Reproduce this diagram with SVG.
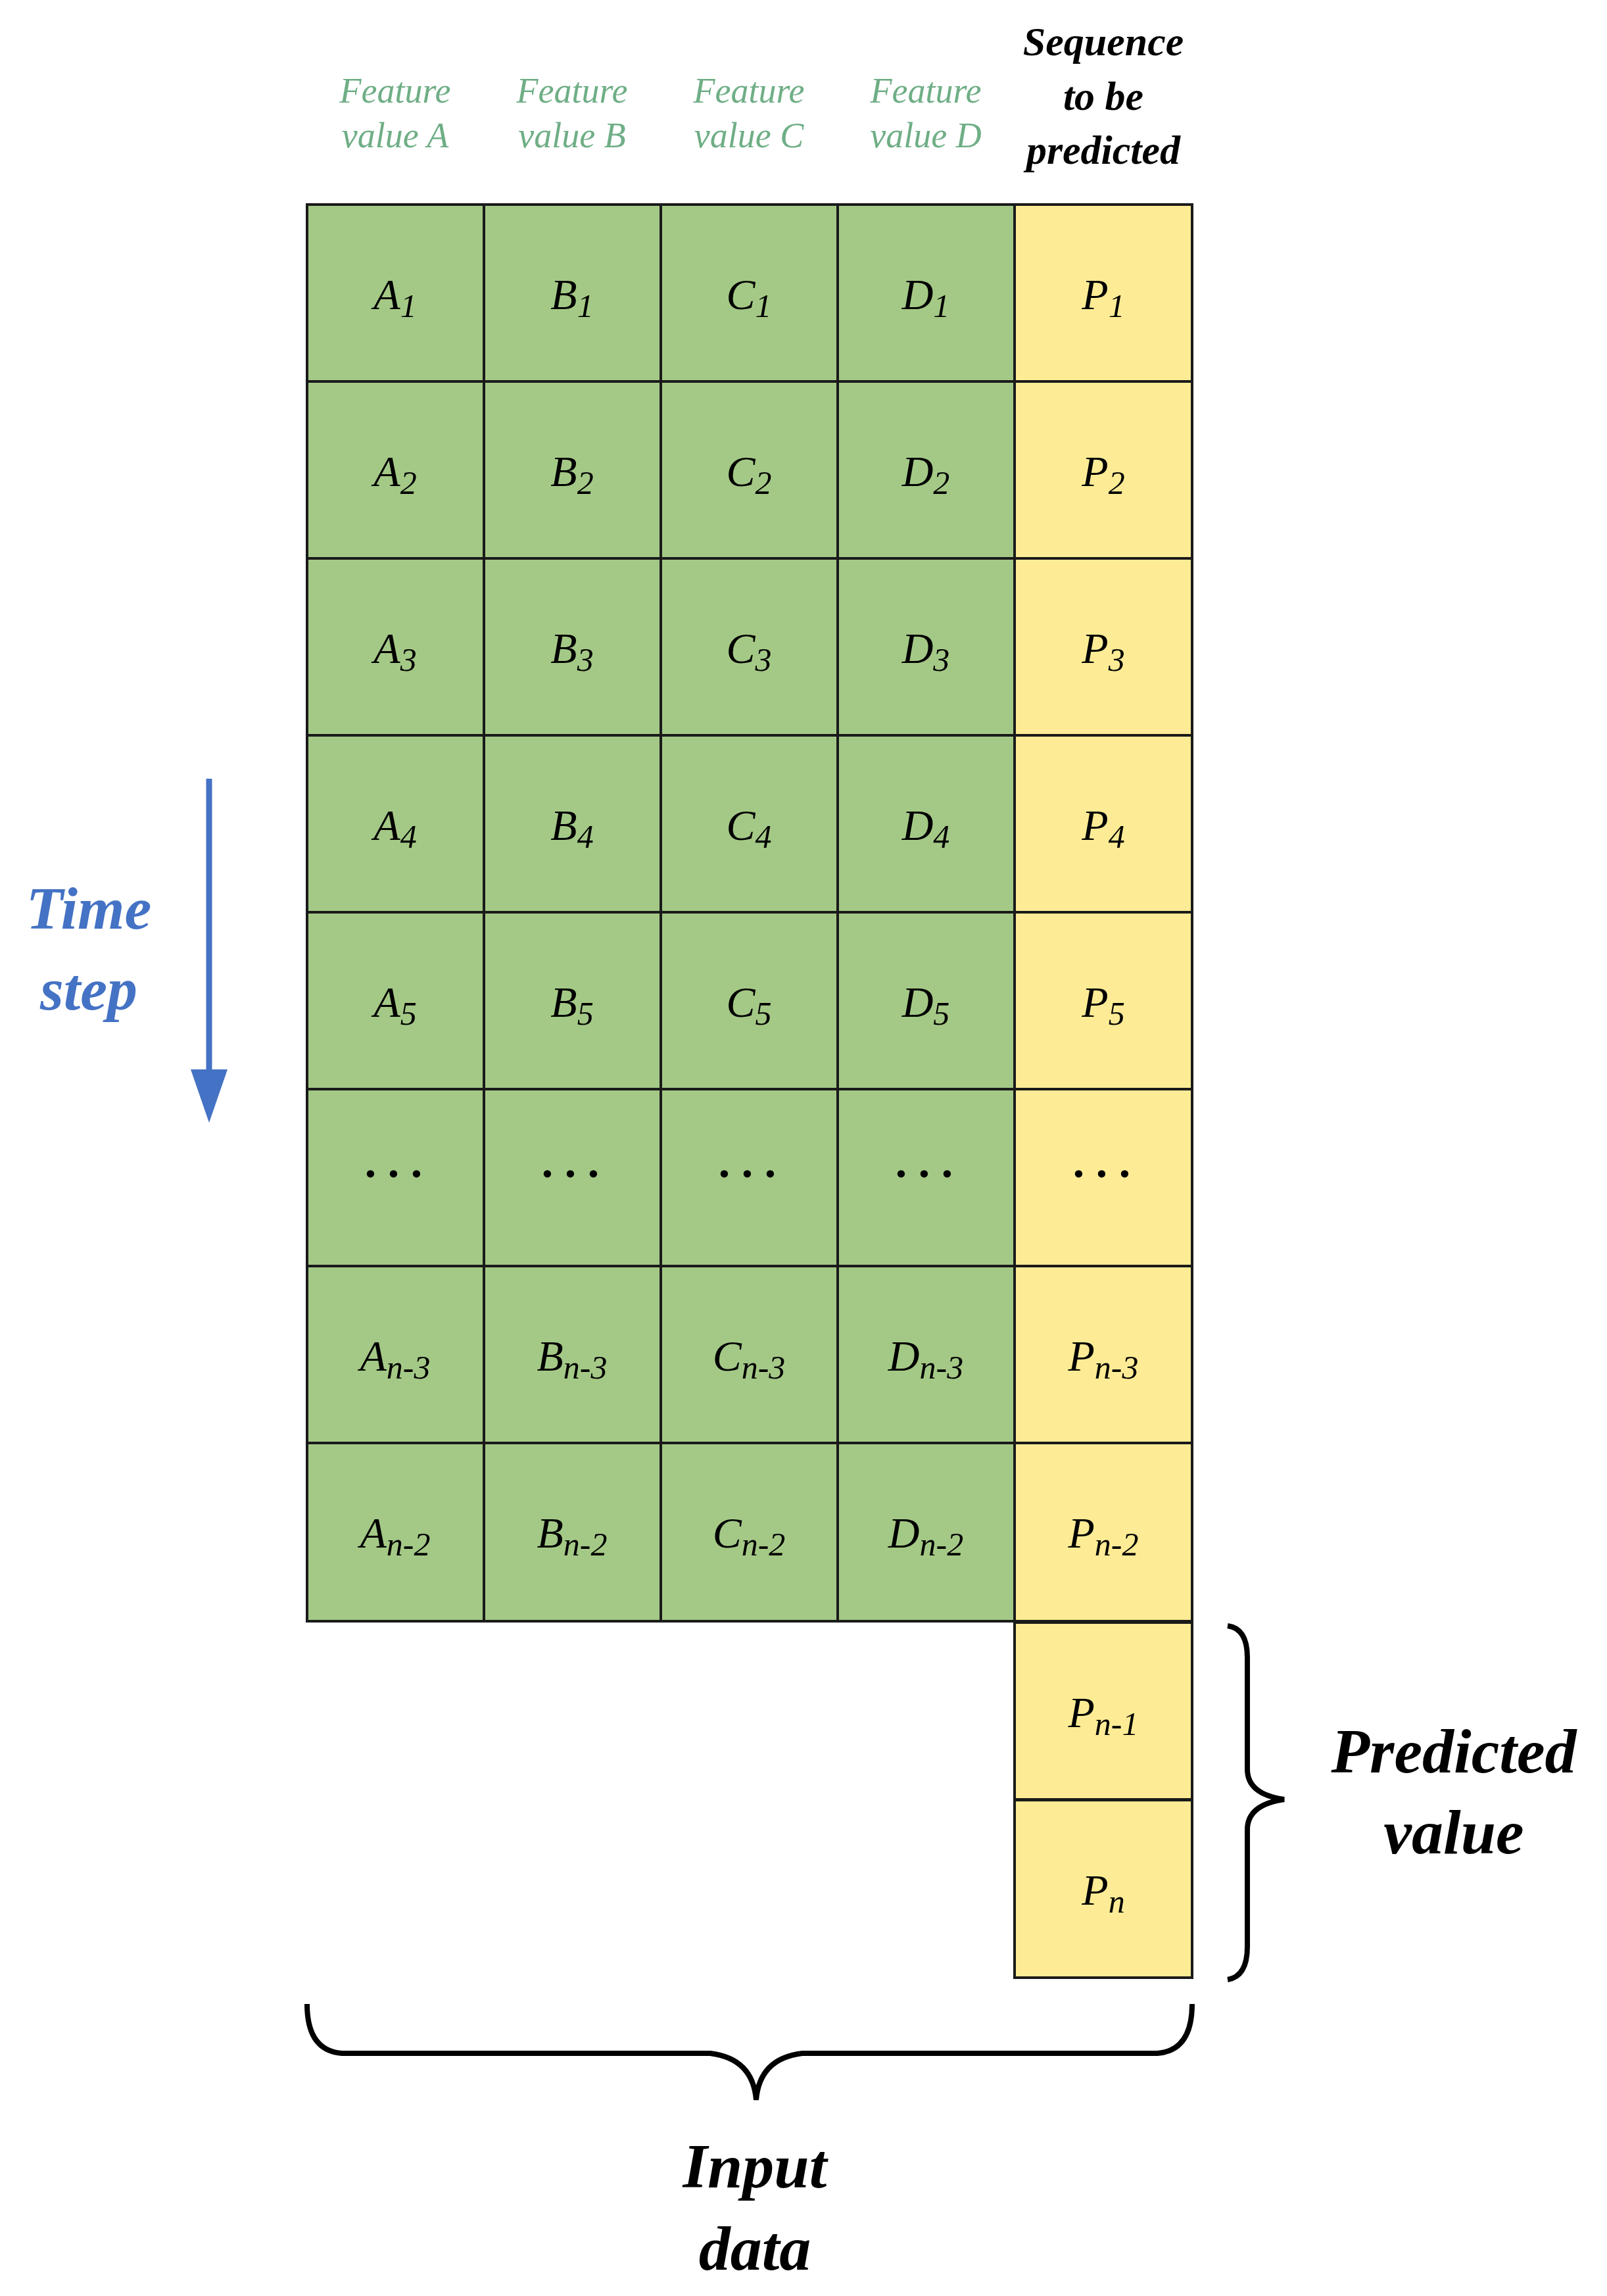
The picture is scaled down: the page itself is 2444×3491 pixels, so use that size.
<svg xmlns="http://www.w3.org/2000/svg" width="2444" height="3491" viewBox="0 0 2444 3491">
<style>
.g{fill:#a4c986;stroke:#1a1a1a;stroke-width:4}
.y{fill:#fdec95;stroke:#1a1a1a;stroke-width:4}
.c{font-family:"Liberation Serif",serif;font-style:italic;font-size:66px;text-anchor:middle;fill:#000}
.s{font-size:50px}
.h{font-family:"Liberation Serif",serif;font-style:italic;font-size:54px;text-anchor:middle;fill:#6fae86}
.b{font-family:"Liberation Serif",serif;font-style:italic;font-weight:bold;text-anchor:middle}
.br{fill:none;stroke:#000;stroke-width:8}
</style>
<rect width="2444" height="3491" fill="#fff"/>
<g id="headers">
<text class="h" x="601" y="156">Feature</text><text class="h" x="601" y="224">value A</text>
<text class="h" x="870" y="156">Feature</text><text class="h" x="870" y="224">value B</text>
<text class="h" x="1139" y="156">Feature</text><text class="h" x="1139" y="224">value C</text>
<text class="h" x="1408" y="156">Feature</text><text class="h" x="1408" y="224">value D</text>
<text class="b" x="1678" y="84" font-size="62">Sequence</text>
<text class="b" x="1678" y="167" font-size="62">to be</text>
<text class="b" x="1678" y="249" font-size="62">predicted</text>
</g>
<g id="grid">
<g id="r1"><rect class="g" x="467" y="311" width="269" height="269"/><rect class="g" x="736" y="311" width="269" height="269"/><rect class="g" x="1005" y="311" width="269" height="269"/><rect class="g" x="1274" y="311" width="269" height="269"/><rect class="y" x="1543" y="311" width="270" height="269"/>
<text class="c" x="601" y="470">A<tspan class="s" dy="12">1</tspan></text><text class="c" x="870" y="470">B<tspan class="s" dy="12">1</tspan></text><text class="c" x="1139" y="470">C<tspan class="s" dy="12">1</tspan></text><text class="c" x="1408" y="470">D<tspan class="s" dy="12">1</tspan></text><text class="c" x="1678" y="470">P<tspan class="s" dy="12">1</tspan></text></g>
<g id="r2"><rect class="g" x="467" y="580" width="269" height="269"/><rect class="g" x="736" y="580" width="269" height="269"/><rect class="g" x="1005" y="580" width="269" height="269"/><rect class="g" x="1274" y="580" width="269" height="269"/><rect class="y" x="1543" y="580" width="270" height="269"/>
<text class="c" x="601" y="739">A<tspan class="s" dy="12">2</tspan></text><text class="c" x="870" y="739">B<tspan class="s" dy="12">2</tspan></text><text class="c" x="1139" y="739">C<tspan class="s" dy="12">2</tspan></text><text class="c" x="1408" y="739">D<tspan class="s" dy="12">2</tspan></text><text class="c" x="1678" y="739">P<tspan class="s" dy="12">2</tspan></text></g>
<g id="r3"><rect class="g" x="467" y="849" width="269" height="269"/><rect class="g" x="736" y="849" width="269" height="269"/><rect class="g" x="1005" y="849" width="269" height="269"/><rect class="g" x="1274" y="849" width="269" height="269"/><rect class="y" x="1543" y="849" width="270" height="269"/>
<text class="c" x="601" y="1008">A<tspan class="s" dy="12">3</tspan></text><text class="c" x="870" y="1008">B<tspan class="s" dy="12">3</tspan></text><text class="c" x="1139" y="1008">C<tspan class="s" dy="12">3</tspan></text><text class="c" x="1408" y="1008">D<tspan class="s" dy="12">3</tspan></text><text class="c" x="1678" y="1008">P<tspan class="s" dy="12">3</tspan></text></g>
<g id="r4"><rect class="g" x="467" y="1118" width="269" height="269"/><rect class="g" x="736" y="1118" width="269" height="269"/><rect class="g" x="1005" y="1118" width="269" height="269"/><rect class="g" x="1274" y="1118" width="269" height="269"/><rect class="y" x="1543" y="1118" width="270" height="269"/>
<text class="c" x="601" y="1277">A<tspan class="s" dy="12">4</tspan></text><text class="c" x="870" y="1277">B<tspan class="s" dy="12">4</tspan></text><text class="c" x="1139" y="1277">C<tspan class="s" dy="12">4</tspan></text><text class="c" x="1408" y="1277">D<tspan class="s" dy="12">4</tspan></text><text class="c" x="1678" y="1277">P<tspan class="s" dy="12">4</tspan></text></g>
<g id="r5"><rect class="g" x="467" y="1387" width="269" height="269"/><rect class="g" x="736" y="1387" width="269" height="269"/><rect class="g" x="1005" y="1387" width="269" height="269"/><rect class="g" x="1274" y="1387" width="269" height="269"/><rect class="y" x="1543" y="1387" width="270" height="269"/>
<text class="c" x="601" y="1546">A<tspan class="s" dy="12">5</tspan></text><text class="c" x="870" y="1546">B<tspan class="s" dy="12">5</tspan></text><text class="c" x="1139" y="1546">C<tspan class="s" dy="12">5</tspan></text><text class="c" x="1408" y="1546">D<tspan class="s" dy="12">5</tspan></text><text class="c" x="1678" y="1546">P<tspan class="s" dy="12">5</tspan></text></g>
<g id="r6"><rect class="g" x="467" y="1656" width="269" height="269"/><rect class="g" x="736" y="1656" width="269" height="269"/><rect class="g" x="1005" y="1656" width="269" height="269"/><rect class="g" x="1274" y="1656" width="269" height="269"/><rect class="y" x="1543" y="1656" width="270" height="269"/>
<text class="b" font-size="70" x="601" y="1790">. . .</text><text class="b" font-size="70" x="870" y="1790">. . .</text><text class="b" font-size="70" x="1139" y="1790">. . .</text><text class="b" font-size="70" x="1408" y="1790">. . .</text><text class="b" font-size="70" x="1678" y="1790">. . .</text></g>
<g id="r7"><rect class="g" x="467" y="1925" width="269" height="269"/><rect class="g" x="736" y="1925" width="269" height="269"/><rect class="g" x="1005" y="1925" width="269" height="269"/><rect class="g" x="1274" y="1925" width="269" height="269"/><rect class="y" x="1543" y="1925" width="270" height="269"/>
<text class="c" x="601" y="2084">A<tspan class="s" dy="12">n-3</tspan></text><text class="c" x="870" y="2084">B<tspan class="s" dy="12">n-3</tspan></text><text class="c" x="1139" y="2084">C<tspan class="s" dy="12">n-3</tspan></text><text class="c" x="1408" y="2084">D<tspan class="s" dy="12">n-3</tspan></text><text class="c" x="1678" y="2084">P<tspan class="s" dy="12">n-3</tspan></text></g>
<g id="r8"><rect class="g" x="467" y="2194" width="269" height="271"/><rect class="g" x="736" y="2194" width="269" height="271"/><rect class="g" x="1005" y="2194" width="269" height="271"/><rect class="g" x="1274" y="2194" width="269" height="271"/><rect class="y" x="1543" y="2194" width="270" height="271"/>
<text class="c" x="601" y="2353">A<tspan class="s" dy="12">n-2</tspan></text><text class="c" x="870" y="2353">B<tspan class="s" dy="12">n-2</tspan></text><text class="c" x="1139" y="2353">C<tspan class="s" dy="12">n-2</tspan></text><text class="c" x="1408" y="2353">D<tspan class="s" dy="12">n-2</tspan></text><text class="c" x="1678" y="2353">P<tspan class="s" dy="12">n-2</tspan></text></g>
<g id="r9"><rect class="y" x="1543" y="2467" width="270" height="269"/><text class="c" x="1678" y="2626">P<tspan class="s" dy="12">n-1</tspan></text></g>
<g id="r10"><rect class="y" x="1543" y="2737" width="270" height="270"/><text class="c" x="1678" y="2896">P<tspan class="s" dy="12">n</tspan></text></g>
</g>
<g id="connectors">
<line x1="318" y1="1184" x2="318" y2="1630" stroke="#4472c4" stroke-width="9"/>
<polygon points="290,1626 346,1626 318,1707" fill="#4472c4"/>
<path class="br" d="M1867,2472 Q1897,2476 1897,2520 L1897,2690 Q1897,2728 1953,2736 Q1897,2744 1897,2782 L1897,2960 Q1897,3005 1867,3010"/>
<path class="br" d="M467,3047 Q467,3118 520,3122 L1080,3122 Q1145,3130 1150,3193 Q1155,3130 1220,3122 L1760,3122 Q1813,3118 1813,3047"/>
</g>
<g id="labels">
<text class="b" x="135" y="1412" font-size="92" fill="#4472c4">Time</text>
<text class="b" x="135" y="1535" font-size="92" fill="#4472c4">step</text>
<text class="b" x="2211" y="2695" font-size="96">Predicted</text>
<text class="b" x="2211" y="2818" font-size="96">value</text>
<text class="b" x="1148" y="3326" font-size="96">Input</text>
<text class="b" x="1148" y="3451" font-size="96">data</text>
</g>
</svg>
